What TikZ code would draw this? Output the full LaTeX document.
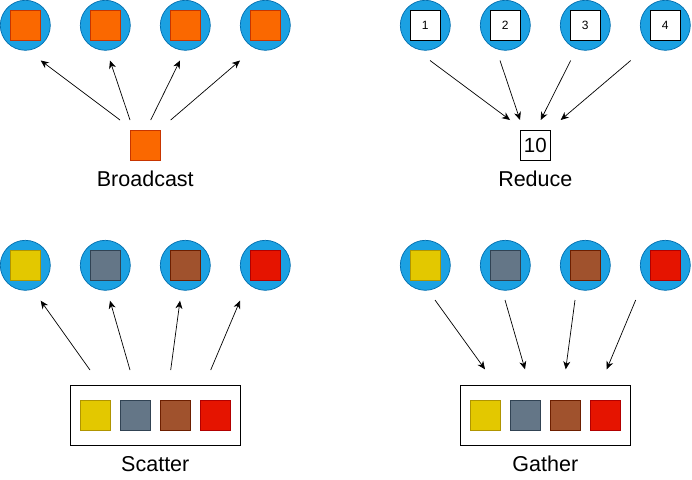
\documentclass[tikz,border=0pt]{standalone}
\usepackage{fontspec}
\setmainfont{Liberation Sans}
\usetikzlibrary{arrows.meta}
\definecolor{cblue}{HTML}{1BA1E2}
\definecolor{cbluedk}{HTML}{006EAF}
\definecolor{corange}{HTML}{FA6800}
\definecolor{corangedk}{HTML}{C73500}
\definecolor{cyellow}{HTML}{E3C800}
\definecolor{cyellowdk}{HTML}{B09500}
\definecolor{cgray}{HTML}{647687}
\definecolor{cgraydk}{HTML}{314354}
\definecolor{cbrown}{HTML}{A0522D}
\definecolor{cbrowndk}{HTML}{6D1F00}
\definecolor{cred}{HTML}{E51400}
\definecolor{creddk}{HTML}{B20000}
\begin{document}
\begin{tikzpicture}[x=1pt,y=-1pt,
  proc/.style={circle, fill=cblue, draw=cbluedk, line width=0.7pt, minimum size=50pt, inner sep=0pt},
  sq/.style={rectangle, minimum size=30pt, inner sep=0pt, line width=0.7pt},
  osq/.style={sq, fill=corange, draw=corangedk},
  wsq/.style={sq, fill=white, draw=black, font=\fontsize{12}{14}\selectfont},
  ysq/.style={sq, fill=cyellow, draw=cyellowdk},
  gsq/.style={sq, fill=cgray, draw=cgraydk},
  bsq/.style={sq, fill=cbrown, draw=cbrowndk},
  rsq/.style={sq, fill=cred, draw=creddk},
  holder/.style={rectangle, draw=black, fill=white, line width=0.8pt, minimum width=170.7pt, minimum height=60.7pt, inner sep=0pt},
  lbl/.style={font=\fontsize{21.5}{25}\selectfont, anchor=base, inner sep=0pt},
  arr/.style={-{Stealth[length=8pt,width=7pt,inset=2.5pt]}, line width=0.7pt, black}]
\useasboundingbox (0,0) rectangle (692,479);

% ---------- Broadcast ----------
\foreach \i/\x in {1/25.3,2/105.3,3/185.3,4/265.3}{
  \node[proc] (bc\i) at (\x,25.3) {};
  \node[osq] (bq\i) at (\x,25.3) {};
}
\node[osq] (bsrc) at (145.3,145.3) {};
\node[lbl] (blbl) at (145.3,186.7) {Broadcast};
\coordinate (bs1) at (120,120);   \coordinate (be1) at (40.7,60.5);
\coordinate (bs2) at (130,120);   \coordinate (be2) at (110,60.5);
\coordinate (bs3) at (150.7,120); \coordinate (be3) at (180,60.5);
\coordinate (bs4) at (170.7,120); \coordinate (be4) at (240,60.5);
\foreach \i in {1,...,4}{\draw[arr] (bs\i) -- (be\i);}

% ---------- Reduce ----------
\foreach \i/\x in {1/425.3,2/505.3,3/585.3,4/665.3}{
  \node[proc] (rc\i) at (\x,25.3) {};
  \node[wsq] (rq\i) at (\x,25.3) {\i};
}
\node[sq, fill=white, draw=black, font=\fontsize{20.5}{24}\selectfont] (rdst) at (535.3,145.3) {10};
\node[lbl] (rlbl) at (535.3,186.7) {Reduce};
\coordinate (rs1) at (430,60.5);   \coordinate (re1) at (510,120);
\coordinate (rs2) at (500,60.5);   \coordinate (re2) at (520,120);
\coordinate (rs3) at (570.7,60.5); \coordinate (re3) at (540.7,120);
\coordinate (rs4) at (630.7,60.5); \coordinate (re4) at (560.7,120);
\foreach \i in {1,...,4}{\draw[arr] (rs\i) -- (re\i);}

% ---------- Scatter ----------
\foreach \i/\x/\s in {1/25.3/ysq,2/105.3/gsq,3/185.3/bsq,4/265.3/rsq}{
  \node[proc] (sc\i) at (\x,265.3) {};
  \node[\s] (sq\i) at (\x,265.3) {};
}
\node[holder] (sbox) at (155.3,415.3) {};
\foreach \i/\x/\s in {1/95.3/ysq,2/135.3/gsq,3/175.3/bsq,4/215.3/rsq}{
  \node[\s] (sp\i) at (\x,415.3) {};
}
\node[lbl] (slbl) at (155.3,471.7) {Scatter};
\coordinate (ss1) at (90,370);    \coordinate (se1) at (40.7,300.7);
\coordinate (ss2) at (130,370);   \coordinate (se2) at (110,300.7);
\coordinate (ss3) at (170.7,370); \coordinate (se3) at (180,300.7);
\coordinate (ss4) at (210.7,370); \coordinate (se4) at (240,300.7);
\foreach \i in {1,...,4}{\draw[arr] (ss\i) -- (se\i);}

% ---------- Gather ----------
\foreach \i/\x/\s in {1/425.3/ysq,2/505.3/gsq,3/585.3/bsq,4/665.3/rsq}{
  \node[proc] (gc\i) at (\x,265.3) {};
  \node[\s] (gq\i) at (\x,265.3) {};
}
\node[holder] (gbox) at (545.3,415.3) {};
\foreach \i/\x/\s in {1/485.3/ysq,2/525.3/gsq,3/565.3/bsq,4/605.3/rsq}{
  \node[\s] (gp\i) at (\x,415.3) {};
}
\node[lbl] (glbl) at (545.3,471.7) {Gather};
\coordinate (gs1) at (435,300);   \coordinate (ge1) at (485,369.3);
\coordinate (gs2) at (505,300);   \coordinate (ge2) at (525,369.3);
\coordinate (gs3) at (575,300);   \coordinate (ge3) at (565.7,369.3);
\coordinate (gs4) at (635.7,300); \coordinate (ge4) at (606.7,369.3);
\foreach \i in {1,...,4}{\draw[arr] (gs\i) -- (ge\i);}
\end{tikzpicture}
\end{document}
